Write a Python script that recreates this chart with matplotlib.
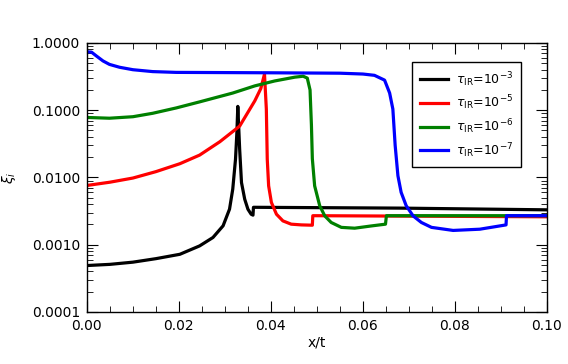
import numpy as np
import matplotlib
matplotlib.use('Agg')
import matplotlib.pyplot as plt
from matplotlib.ticker import MultipleLocator, FormatStrFormatter, LogLocator, FixedLocator

# tau_IR = 1e-3
x_k = [0.0, 0.005, 0.010, 0.015, 0.0202, 0.0245, 0.0274, 0.0296, 0.0310, 0.0317,
       0.0323, 0.0326, 0.0328, 0.0332, 0.0336, 0.0343, 0.0350, 0.0357, 0.0361,
       0.0362, 0.068, 0.1]
y_k = [0.00049, 0.00051, 0.00055, 0.00062, 0.00072, 0.00096, 0.00128, 0.00191, 0.00338, 0.0067,
       0.0187, 0.0468, 0.114, 0.0264, 0.0084, 0.00475, 0.00337, 0.00284, 0.00275,
       0.0036, 0.0035, 0.0033]

# tau_IR = 1e-5
x_r = [0.0, 0.005, 0.010, 0.015, 0.0202, 0.0245, 0.0289, 0.0332, 0.0365, 0.0378,
       0.0386, 0.0390, 0.0392, 0.0395, 0.0401, 0.0412, 0.0426, 0.0444, 0.0466,
       0.0490, 0.0491, 0.1]
y_r = [0.0076, 0.0085, 0.0098, 0.0122, 0.0160, 0.0215, 0.034, 0.058, 0.138, 0.21,
       0.344, 0.104, 0.0187, 0.0075, 0.00425, 0.00284, 0.00226, 0.00202, 0.00197,
       0.00195, 0.0027, 0.0026]

# tau_IR = 1e-6
x_g = [0.0, 0.0049, 0.010, 0.0143, 0.0194, 0.0245, 0.0317, 0.0365, 0.0408, 0.0452,
       0.0470, 0.0479, 0.0485, 0.0488, 0.0490, 0.0495, 0.0506, 0.0517, 0.0531,
       0.0553, 0.0582, 0.0618, 0.0649, 0.0651, 0.1]
y_g = [0.078, 0.076, 0.080, 0.090, 0.108, 0.133, 0.18, 0.23, 0.272, 0.31,
       0.32, 0.30, 0.20, 0.06, 0.019, 0.0075, 0.0038, 0.00268, 0.00214,
       0.00181, 0.00176, 0.0019, 0.00202, 0.0027, 0.0027]

# tau_IR = 1e-7
x_b = [0.0, 0.001, 0.002, 0.0035, 0.0049, 0.0071, 0.0100, 0.0143, 0.0194, 0.0400,
       0.0550, 0.0600, 0.0625, 0.0647, 0.0658, 0.0665, 0.0670, 0.0676, 0.0683,
       0.0694, 0.0709, 0.0727, 0.0749, 0.0796, 0.0854, 0.0911, 0.0912, 0.1]
y_b = [0.74, 0.73, 0.645, 0.54, 0.48, 0.435, 0.40, 0.375, 0.365, 0.36,
       0.355, 0.345, 0.33, 0.28, 0.18, 0.104, 0.030, 0.0106, 0.0060,
       0.0038, 0.00268, 0.00214, 0.00181, 0.00163, 0.0017, 0.00197, 0.0027, 0.0027]

labels = [r'$\tau_{\rm IR}$=10$^{-3}$', r'$\tau_{\rm IR}$=10$^{-5}$',
          r'$\tau_{\rm IR}$=10$^{-6}$', r'$\tau_{\rm IR}$=10$^{-7}$']
colors = ['k', 'r', 'g', 'b']

fig = plt.figure(figsize=(5.68, 3.64), dpi=100)
ax = fig.add_axes([0.153, 0.143, 0.81, 0.739])

for xs, ys, c, lab in zip([x_k, x_r, x_g, x_b], [y_k, y_r, y_g, y_b], colors, labels):
    ax.plot(xs, ys, color=c, linewidth=2.3, label=lab)

ax.set_yscale('log')
ax.set_xlim(0, 0.1)
ax.set_ylim(1e-4, 1.0)
ax.xaxis.set_major_locator(MultipleLocator(0.02))
ax.xaxis.set_minor_locator(MultipleLocator(0.005))
ax.xaxis.set_major_formatter(FormatStrFormatter('%.2f'))
ax.yaxis.set_major_locator(FixedLocator([1e-4, 1e-3, 1e-2, 1e-1, 1.0]))
ax.yaxis.set_minor_locator(LogLocator(base=10, subs=np.arange(2, 10)))
ax.yaxis.set_major_formatter(FormatStrFormatter('%.4f'))
ax.tick_params(which='both', direction='in', top=True, right=True, labelsize=10)
ax.tick_params(which='major', length=8, pad=5)
ax.tick_params(which='minor', length=4)
for sp in ax.spines.values():
    sp.set_linewidth(1.0)

ax.set_xlabel('x/t', fontsize=10, labelpad=2)
ax.set_ylabel(r'$\xi_i$', fontsize=10, labelpad=10)

leg = ax.legend(loc='upper right', bbox_to_anchor=(0.943, 0.928), borderaxespad=0,
                fontsize=9, fancybox=False, framealpha=1.0, handlelength=2.3,
                handletextpad=0.6, labelspacing=0.4, borderpad=0.6)
leg.get_frame().set_edgecolor('k')
leg.get_frame().set_linewidth(1.0)

fig.savefig('out.png', dpi=100)
